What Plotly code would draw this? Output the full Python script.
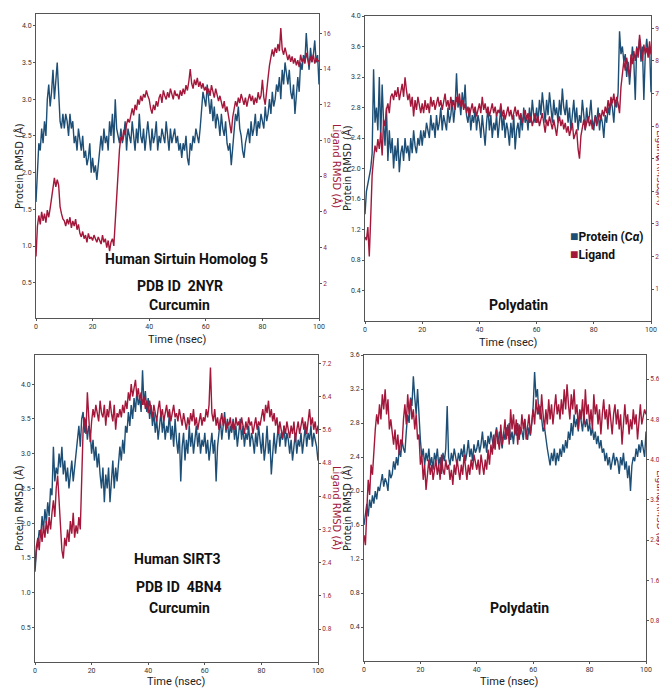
import numpy as np
import plotly.graph_objects as go

# ---------------- data (RMSD traces, sampled every 0.5 ns, 0..100 ns) ----------------
P1_PROTEIN = [
    1.6, 2.1, 2.4, 2.3, 2.6, 2.4, 2.7, 2.5, 3.0, 3.2, 2.9, 3.1, 3.4, 3.0, 3.3, 3.5, 3.1, 2.7, 2.6, 2.8,
    2.6, 2.8, 2.7, 2.5, 2.8, 2.6, 2.7, 2.4, 2.5, 2.3, 2.6, 2.4, 2.3, 2.5, 2.2, 2.3, 2.1, 2.2, 2.4, 2.0,
    2.2, 2.0, 2.1, 1.9, 2.1, 2.4, 2.5, 2.3, 2.6, 2.4, 2.5, 2.3, 2.7, 2.5, 2.8, 2.4, 3.0, 2.6, 2.5, 2.4,
    2.6, 2.4, 2.5, 2.7, 2.3, 2.6, 2.5, 2.4, 2.7, 2.5, 2.3, 2.6, 2.4, 2.8, 2.5, 2.4, 2.6, 2.3, 2.5, 2.7,
    2.5, 2.3, 2.6, 2.4, 2.5, 2.7, 2.3, 2.5, 2.4, 2.6, 2.5, 2.4, 2.7, 2.5, 2.3, 2.6, 2.4, 2.5, 2.6, 2.4,
    2.5, 2.3, 2.4, 2.2, 2.4, 2.3, 2.5, 2.2, 2.1, 2.4, 2.3, 2.5, 2.4, 2.6, 2.5, 2.4, 2.6, 2.9, 3.1, 3.0,
    2.9, 3.2, 3.0, 2.8, 3.0, 2.7, 2.9, 2.6, 2.8, 2.7, 2.5, 2.8, 2.6, 2.5, 2.7, 2.4, 2.3, 2.4, 2.1, 2.3,
    2.6, 2.8, 2.7, 2.9, 2.6, 2.5, 2.3, 2.2, 2.4, 2.5, 2.6, 2.4, 2.7, 2.5, 2.6, 2.8, 2.5, 2.7, 2.6, 2.8,
    2.7, 2.6, 2.9, 2.7, 2.8, 3.0, 2.8, 3.1, 2.9, 3.0, 3.2, 3.1, 3.3, 3.0, 3.4, 3.2, 3.5, 3.3, 3.2, 3.4,
    3.1, 3.0, 3.2, 2.8, 3.0, 3.3, 3.1, 3.5, 3.4, 3.6, 3.5, 3.9, 3.6, 3.4, 3.7, 3.5, 3.6, 3.8, 3.5, 3.6,
    3.2,
]
P1_LIGAND = [
    3.5, 5.2, 5.8, 5.3, 6.0, 5.5, 5.9, 5.4, 6.1, 5.7, 6.2, 6.8, 7.3, 7.9, 7.4, 7.8, 7.5, 6.3, 5.9, 5.6,
    5.5, 5.2, 5.6, 5.3, 5.7, 5.1, 5.5, 5.2, 5.6, 5.0, 5.3, 4.8, 4.6, 4.9, 4.5, 4.7, 4.3, 4.8, 4.5, 4.6,
    4.4, 4.7, 4.5, 4.3, 4.6, 4.4, 4.2, 4.7, 4.3, 4.5, 4.0, 4.4, 3.8, 4.3, 4.5, 4.1, 5.5, 7.0, 8.5, 9.5,
    10.2, 10.0, 10.6, 10.3, 10.9, 11.2, 11.0, 11.5, 11.8, 11.4, 12.0, 11.7, 12.3, 12.0, 12.5, 12.2, 12.6, 12.4, 12.8, 12.5,
    12.3, 11.8, 11.5, 12.0, 11.7, 12.2, 11.9, 12.4, 12.6, 12.1, 12.8, 12.5, 12.3, 12.7, 12.4, 12.9, 12.6, 12.3, 12.8, 12.5,
    12.6, 12.3, 12.8, 12.5, 12.9, 12.6, 13.1, 12.8, 13.3, 14.0, 13.2, 12.9, 13.4, 13.1, 13.5, 13.0, 13.3, 12.9, 13.2, 12.8,
    13.0, 12.6, 12.9, 12.5, 13.1, 12.7, 12.4, 12.9, 12.6, 12.2, 12.5, 12.1, 11.8, 12.2, 11.6, 11.9, 11.4, 11.0, 10.4, 11.3,
    11.8, 12.2, 11.9, 12.4, 12.1, 12.6, 12.3, 12.0, 12.4, 11.9, 12.3, 12.6, 12.2, 12.5, 12.0, 12.4, 12.1, 12.7, 12.3, 12.5,
    13.4, 12.4, 12.0, 12.6, 13.5, 14.2, 14.8, 15.1, 14.7, 15.2, 14.9, 15.4, 15.0, 16.3, 15.1, 14.8, 15.2, 14.9, 14.5, 14.8,
    14.4, 14.7, 14.3, 14.6, 14.2, 14.5, 14.1, 14.8, 14.4, 14.6, 14.3, 14.9, 14.5, 14.2, 14.7, 14.4, 14.8, 14.3, 14.6, 14.4,
    14.5,
]
P2_PROTEIN = [
    1.4, 1.7, 1.8, 1.9, 2.0, 2.2, 3.3, 2.6, 2.8, 2.5, 3.2, 2.4, 3.1, 2.6, 2.3, 2.8, 2.1, 2.5, 2.2, 2.4,
    2.0, 2.3, 2.1, 2.4, 1.95, 2.2, 2.3, 2.1, 2.4, 2.2, 2.3, 2.1, 2.4, 2.2, 2.5, 2.3, 2.2, 2.4, 2.3, 2.5,
    2.3, 2.5, 2.4, 2.6, 2.5, 2.4, 2.7, 2.5, 2.6, 2.4, 2.7, 2.5, 2.6, 2.8, 2.5, 2.7, 2.6, 2.5, 2.8, 2.6,
    2.7, 2.9, 2.6, 2.8, 3.25, 2.8, 2.9, 2.7, 3.0, 2.8, 3.1, 2.7, 2.6, 2.8, 2.5, 2.7, 2.6, 2.8, 2.5, 2.7,
    2.6, 2.4, 2.7, 2.5, 2.3, 2.6, 2.8, 2.5, 2.7, 2.4, 2.6, 2.5, 2.7, 2.4, 2.6, 2.8, 2.5, 2.7, 2.4, 2.6,
    2.5, 2.3, 2.6, 2.4, 2.7, 2.25, 2.5, 2.6, 2.4, 2.7, 2.5, 2.8, 2.6, 2.7, 2.5, 2.8, 2.6, 2.9, 2.7, 2.6,
    2.8, 2.6, 2.9, 2.7, 3.0, 2.8, 2.6, 2.9, 2.7, 3.0, 2.8, 2.6, 2.9, 2.7, 2.8, 2.6, 2.9, 2.7, 3.05, 2.8,
    2.7, 2.9, 2.6, 2.8, 2.5, 2.7, 2.9, 2.6, 2.8, 2.5, 2.7, 2.6, 2.9, 2.7, 2.5, 2.8, 2.6, 2.7, 2.9, 2.6,
    2.5, 2.7, 2.6, 2.8, 2.5, 2.7, 2.6, 2.4, 2.7, 2.6, 2.8, 2.7, 2.9, 2.8, 2.6, 2.9, 2.8, 3.0, 3.8, 3.5,
    3.6, 3.4, 3.5, 3.2, 3.4, 3.1, 3.3, 3.6, 3.4, 2.9, 3.6, 3.5, 3.7, 3.4, 3.6, 2.9, 3.5, 3.7, 3.5, 3.6,
    3.0,
]
P2_LIGAND = [
    2.6, 2.5, 2.9, 2.0, 3.2, 4.5, 5.0, 5.4, 5.2, 5.6, 5.3, 5.8, 5.1, 6.2, 6.0, 6.5, 6.7, 6.4, 6.9, 7.0,
    6.8, 7.1, 6.9, 7.2, 6.8, 7.0, 7.3, 6.9, 7.5, 7.1, 6.8, 7.0, 6.6, 6.9, 6.3, 6.8, 6.5, 6.9, 6.6, 6.4,
    6.7, 6.4, 6.8, 6.5, 6.7, 6.4, 6.9, 6.6, 6.8, 6.5, 6.7, 6.9, 6.6, 6.8, 6.5, 6.7, 7.0, 6.6, 6.8, 6.5,
    6.9, 6.6, 6.8, 6.5, 6.9, 6.7, 7.0, 6.6, 6.8, 6.5, 6.7, 6.4, 6.6, 6.3, 6.5, 6.7, 6.4, 6.6, 6.3, 6.5,
    6.7, 6.4, 6.9, 6.5, 6.7, 6.4, 6.6, 6.3, 6.5, 6.7, 6.4, 6.6, 6.3, 6.5, 6.4, 6.7, 6.3, 6.5, 6.2, 6.4,
    6.6, 6.3, 6.5, 6.2, 6.4, 6.6, 6.3, 6.5, 6.2, 6.4, 6.1, 6.3, 6.5, 6.2, 6.4, 6.1, 6.3, 6.0, 6.2, 6.4,
    6.1, 6.3, 6.0, 6.2, 6.4, 6.1, 5.8, 6.2, 6.0, 6.3, 6.1, 5.9, 6.2, 6.0, 5.7, 6.1, 6.3, 6.0, 6.2, 5.9,
    6.1, 5.8, 6.0, 5.7, 5.9, 6.1, 5.6, 5.8, 5.9, 5.3, 5.0, 5.7, 6.0, 6.2, 5.9, 6.1, 6.3, 6.0, 6.2, 5.9,
    6.1, 6.3, 6.0, 6.2, 6.4, 6.2, 6.5, 6.3, 6.6, 6.4, 6.8, 6.5, 6.9, 6.7, 7.0, 6.6, 6.9, 6.7, 6.4, 7.2,
    7.6, 8.0, 7.7, 8.1, 7.8, 7.5, 8.2, 7.9, 8.3, 8.0, 8.4, 8.1, 8.8, 8.3, 8.0, 8.5, 8.2, 8.4, 8.1, 8.6,
    8.2,
]
P3_PROTEIN = [
    1.3, 1.6, 1.7, 1.9, 1.8, 2.1, 1.9, 2.2, 2.0, 2.3, 2.1, 2.5, 2.4, 3.1, 2.6, 2.8, 2.7, 3.0, 2.8, 3.1,
    2.7, 2.9, 2.6, 2.8, 2.5, 2.7, 2.9, 2.6, 2.8, 3.0, 3.2, 3.4, 3.1, 3.5, 3.6, 3.3, 3.5, 3.2, 3.4, 3.3,
    3.0, 3.2, 2.9, 3.1, 2.8, 3.0, 2.7, 2.5, 2.8, 2.3, 2.7, 2.5, 2.8, 2.3, 2.6, 2.9, 2.5, 2.8, 2.6, 2.9,
    3.1, 2.9, 3.2, 3.0, 3.4, 3.3, 3.6, 3.4, 3.7, 3.5, 3.8, 3.6, 3.9, 3.7, 3.8, 3.6, 4.2, 3.7, 3.9, 3.6,
    3.8, 3.5, 3.7, 3.4, 3.6, 3.3, 3.5, 3.2, 3.4, 3.6, 3.3, 3.5, 3.2, 3.4, 3.3, 3.6, 3.2, 3.4, 3.1, 3.5,
    3.2, 3.0, 3.3, 2.6, 3.1, 3.3, 2.9, 3.2, 3.0, 3.4, 3.1, 3.3, 3.0, 3.2, 3.4, 3.1, 3.3, 3.0, 3.2, 3.1,
    3.3, 3.0, 3.2, 2.9, 3.1, 3.3, 3.0, 3.2, 2.6, 3.1, 3.3, 3.5, 3.2, 3.4, 3.6, 3.3, 3.5, 3.2, 3.4, 3.3,
    3.5, 3.2, 3.4, 3.1, 3.3, 3.5, 3.2, 3.4, 3.1, 3.3, 3.2, 3.4, 3.1, 3.3, 3.2, 3.0, 3.3, 3.1, 3.4, 3.2,
    3.0, 3.3, 2.9, 3.1, 3.4, 3.0, 3.2, 2.7, 3.1, 3.3, 3.0, 3.2, 3.4, 3.1, 3.3, 3.2, 3.4, 3.1, 3.3, 3.2,
    3.0, 3.2, 2.9, 3.1, 3.3, 3.0, 3.2, 3.1, 3.3, 3.0, 3.2, 3.4, 3.1, 3.3, 3.2, 3.4, 3.1, 3.3, 3.2, 3.1,
    2.9,
]
P3_LIGAND = [
    2.3, 2.8, 3.0, 2.7, 3.2, 2.9, 3.3, 3.0, 3.4, 3.1, 3.5, 3.2, 3.6, 3.9, 3.5, 4.2, 4.5, 3.8, 3.2, 2.7,
    2.5, 3.0, 2.8, 3.2, 2.9, 3.4, 3.1, 3.6, 3.0, 3.3, 3.1, 3.5, 3.2, 4.8, 5.6, 5.9, 5.5, 6.5, 5.7, 5.3,
    5.8, 6.1, 5.9, 6.2, 6.0, 5.8, 6.3, 6.0, 5.9, 6.2, 5.7, 6.1, 5.9, 6.3, 6.0, 5.8, 6.2, 5.6, 6.0, 5.9,
    6.1, 5.9, 6.2, 6.0, 6.3, 6.1, 6.5, 6.3, 6.7, 6.4, 6.6, 6.8, 6.4, 6.6, 6.3, 6.5, 6.2, 6.4, 6.1, 6.3,
    6.0, 6.3, 6.1, 5.9, 6.2, 6.0, 5.8, 6.1, 6.3, 5.9, 6.1, 5.8, 6.0, 6.2, 5.9, 6.1, 5.8, 6.0, 6.2, 5.9,
    6.0, 5.8, 6.1, 5.9, 5.7, 6.0, 5.8, 5.6, 5.9, 5.7, 6.0, 5.8, 6.1, 5.7, 5.9, 5.6, 5.8, 6.0, 5.7, 5.9,
    5.8, 6.1, 5.9, 6.2, 7.1, 6.0, 5.8, 6.1, 5.7, 5.9, 5.6, 5.8, 6.0, 5.7, 5.9, 5.6, 5.8, 5.7, 5.9, 5.6,
    5.8, 5.6, 5.9, 5.7, 5.8, 5.6, 5.9, 5.7, 5.5, 5.8, 5.6, 5.9, 5.7, 5.8, 5.5, 5.7, 5.9, 5.6, 5.8, 5.7,
    5.9, 6.1, 5.8, 6.2, 6.0, 6.3, 5.9, 6.1, 5.8, 6.0, 5.7, 5.9, 5.5, 5.8, 5.6, 5.4, 5.7, 5.5, 5.8, 5.6,
    5.4, 5.7, 5.5, 5.8, 5.3, 5.6, 5.8, 5.5, 5.7, 5.9, 5.6, 5.8, 5.5, 5.9, 6.1, 5.7, 5.9, 5.6, 5.8, 5.5,
    5.7,
]
P4_PROTEIN = [
    1.6, 1.75, 1.85, 1.7, 1.9, 1.8, 1.95, 1.85, 2.0, 1.9, 2.05, 2.0, 2.1, 2.2, 2.05, 2.15, 2.1, 2.0, 2.25, 2.15,
    2.2, 2.35, 2.25, 2.4, 2.3, 2.5, 2.4, 2.6, 2.5, 2.45, 2.7, 2.9, 2.8, 3.1, 3.0, 3.35, 3.1, 2.9, 3.2, 2.8,
    2.6, 2.4, 2.5, 2.3, 2.45, 2.35, 2.5, 2.3, 2.4, 2.25, 2.45, 2.35, 2.5, 2.3, 2.4, 2.2, 2.45, 2.35, 2.5, 3.0,
    2.4, 2.3, 2.45, 2.35, 2.5, 2.4, 2.3, 2.45, 2.35, 2.5, 2.4, 2.55, 2.35, 2.45, 2.6, 2.4, 2.5, 2.35, 2.55, 2.45,
    2.5, 2.6, 2.45, 2.55, 2.7, 2.5, 2.6, 2.45, 2.65, 2.55, 2.7, 2.6, 2.5, 2.65, 2.75, 2.55, 2.7, 2.6, 2.5, 2.7,
    2.6, 2.75, 2.65, 2.8, 2.6, 2.7, 2.55, 2.75, 2.65, 2.8, 2.6, 2.75, 2.7, 2.6, 2.85, 2.7, 2.6, 2.75, 2.65, 2.8,
    3.0, 3.4, 3.1, 3.2, 2.9, 3.0, 2.8, 2.7, 2.75, 2.6, 2.5, 2.4, 2.3, 2.45, 2.35, 2.5, 2.3, 2.45, 2.35, 2.5,
    2.4, 2.55, 2.45, 2.6, 2.5, 2.7, 2.6, 2.8, 2.65, 2.9, 2.75, 2.85, 2.7, 2.95, 2.8, 2.7, 2.9, 2.75, 2.85, 2.7,
    2.8, 2.65, 2.75, 2.6, 2.7, 2.55, 2.65, 2.5, 2.6, 2.45, 2.5, 2.35, 2.45, 2.3, 2.4, 2.25, 2.35, 2.45, 2.3, 2.4,
    2.35, 2.2, 2.4, 2.3, 2.45, 2.25, 2.35, 2.15, 2.3, 2.0, 2.3, 2.4, 2.35, 2.5, 2.4, 2.55, 2.45, 2.6, 2.5, 2.4,
    2.7,
]
P4_LIGAND = [
    2.5, 2.3, 3.0, 3.6, 3.3, 3.9, 3.7, 4.3, 4.6, 4.9, 4.7, 5.1, 4.8, 5.3, 5.0, 5.4, 4.9, 5.2, 4.6, 4.8,
    4.5, 4.3, 4.6, 4.2, 4.5, 4.1, 4.4, 4.3, 4.8, 5.1, 4.7, 5.3, 4.9, 5.2, 4.8, 5.0, 4.6, 4.9, 4.4, 4.5,
    3.9, 4.1, 3.6, 3.9, 3.4, 3.8, 4.0, 3.7, 3.9, 3.6, 3.8, 4.0, 3.7, 3.9, 3.6, 4.1, 3.8, 3.7, 4.0, 3.8,
    3.9, 3.6, 3.8, 3.5, 3.9, 3.7, 4.0, 3.8, 3.6, 3.9, 3.7, 4.1, 3.8, 3.6, 3.9, 3.7, 4.0, 3.8, 4.1, 3.9,
    3.8, 4.0, 3.7, 4.1, 3.9, 3.7, 4.0, 3.8, 4.2, 3.9, 4.3, 4.1, 4.5, 4.2, 4.6, 4.4, 4.2, 4.7, 4.3, 4.5,
    4.8, 4.4, 4.7, 4.3, 5.0, 4.6, 4.9, 4.5, 4.8, 4.3, 4.7, 4.5, 4.9, 4.6, 4.8, 4.4, 4.7, 4.9, 4.5, 4.8,
    5.0, 4.7, 5.2, 4.9, 5.1, 4.8, 5.3, 4.9, 4.6, 5.0, 4.7, 5.2, 4.8, 5.1, 4.7, 5.0, 5.3, 4.9, 5.1, 4.8,
    5.2, 4.9, 5.4, 5.0, 5.5, 5.1, 4.8, 5.3, 5.0, 5.4, 4.9, 5.1, 4.6, 5.0, 4.8, 5.2, 4.7, 5.4, 4.9, 5.1,
    4.7, 5.0, 4.6, 5.3, 4.9, 5.1, 4.7, 5.0, 4.5, 4.9, 5.2, 4.8, 5.0, 4.6, 5.1, 4.8, 4.5, 4.9, 5.1, 4.7,
    5.0, 4.6, 4.9, 4.3, 4.8, 5.1, 4.7, 4.9, 4.5, 4.8, 4.6, 5.0, 4.7, 4.9, 4.4, 4.8, 5.1, 4.7, 4.9, 5.0,
    4.9,
]

X_TICKS = [0, 20, 40, 60, 80, 100]
P1_LEFT_TICKS = [0.5, 1.0, 1.5, 2.0, 2.5, 3.0, 3.5, 4.0]
P1_RIGHT_TICKS = [2, 4, 6, 8, 10, 12, 14, 16]
P2_LEFT_TICKS = [0.4, 0.8, 1.2, 1.6, 2.0, 2.4, 2.8, 3.2, 3.6, 4.0]
P2_RIGHT_TICKS = [1, 2, 3, 4, 5, 6, 7, 8, 9]
P3_LEFT_TICKS = [0.5, 1.0, 1.5, 2.0, 2.5, 3.0, 3.5, 4.0]
P3_RIGHT_TICKS = [0.8, 1.6, 2.4, 3.2, 4.0, 4.8, 5.6, 6.4, 7.2]
P4_LEFT_TICKS = [0.4, 0.8, 1.2, 1.6, 2.0, 2.4, 2.8, 3.2, 3.6]
P4_RIGHT_TICKS = [0.8, 1.6, 2.4, 3.2, 4.0, 4.8, 5.6]

PANEL_LABELS = [
    ["Human Sirtuin Homolog 5", "PDB ID  2NYR", "Curcumin"],
    ["Polydatin"],
    ["Human SIRT3", "PDB ID  4BN4", "Curcumin"],
    ["Polydatin"],
]
SERIES_NAMES = ["Protein (C<i>α</i>)", "Ligand"]
X_TITLE = "Time (nsec)"
LEFT_TITLE = "Protein RMSD (Å)"
RIGHT_TITLE = "Ligand RMSD (Å)"

# ---------------- style / page geometry ----------------
PAGE_OFF = 8              # default body margin of the html page
W, H = 667 - PAGE_OFF, 688 - PAGE_OFF
BLUE = "#1d4e75"
RED = "#a3173a"
AXIS_COL = "#555555"
NARROW = "Liberation Sans Narrow, Roboto, sans-serif"
WIDE = "DejaVu Sans, Verdana, sans-serif"


def px_x(px):
    return (px - PAGE_OFF) / W


def px_y(py):
    return 1 - (py - PAGE_OFF) / H


panels = [
    dict(protein=P1_PROTEIN, ligand=P1_LIGAND, box=(36, 319, 14, 318),
         lrange=[0.02, 4.16], rrange=[0.06, 17.08], lt=P1_LEFT_TICKS, rt=P1_RIGHT_TICKS,
         lfmt="{:.1f}", rfmt="{:d}", labels=PANEL_LABELS[0],
         label_pos=[(187, 259), (180, 286), (179, 305)],
         ltitle=(19, 166), rtitle=(337, 166), rsize=10, xtitle=(177, 339)),
    dict(protein=P2_PROTEIN, ligand=P2_LIGAND, box=(365, 651, 16, 321),
         lrange=[0.0, 4.0], rrange=[0.02, 9.38], lt=P2_LEFT_TICKS, rt=P2_RIGHT_TICKS,
         lfmt="{:.1f}", rfmt="{:d}", labels=PANEL_LABELS[1],
         label_pos=[(518, 305)],
         ltitle=(347, 168), rtitle=(661, 168), rsize=9, xtitle=(508, 342)),
    dict(protein=P3_PROTEIN, ligand=P3_LIGAND, box=(35, 318, 355, 662),
         lrange=[0.0, 4.42], rrange=[0.01, 7.4], lt=P3_LEFT_TICKS, rt=P3_RIGHT_TICKS,
         lfmt="{:.1f}", rfmt="{:.1f}", labels=PANEL_LABELS[2],
         label_pos=[(177, 559), (179, 587), (179, 608)],
         ltitle=(19, 508), rtitle=(337, 508), rsize=10, xtitle=(176, 681)),
    dict(protein=P4_PROTEIN, ligand=P4_LIGAND, box=(364, 646, 355, 661),
         lrange=[0.0, 3.6], rrange=[0.0, 6.08], lt=P4_LEFT_TICKS, rt=P4_RIGHT_TICKS,
         lfmt="{:.1f}", rfmt="{:.1f}", labels=PANEL_LABELS[3],
         label_pos=[(519, 608)],
         ltitle=(347, 508), rtitle=(661, 508), rsize=9, xtitle=(509, 681)),
]

fig = go.Figure()
layout = dict(
    width=W, height=H, margin=dict(l=0, r=0, t=0, b=0),
    paper_bgcolor="white", plot_bgcolor="white", showlegend=False,
)
annotations = []


def add_text(text, pos, font, angle=0, xanchor="center"):
    annotations.append(dict(
        text=text, x=px_x(pos[0]), y=px_y(pos[1]), xref="paper", yref="paper",
        showarrow=False, xanchor=xanchor, yanchor="middle", textangle=angle, font=font,
    ))


for i, p in enumerate(panels):
    n = i + 1
    xname = "x" if n == 1 else f"x{n}"
    yl, yr = 2 * n - 1, 2 * n
    ylname = "y" if yl == 1 else f"y{yl}"
    yrname = f"y{yr}"
    x0, x1, y0, y1 = p["box"]
    t_prot = np.linspace(0, 100, len(p["protein"]))
    t_lig = np.linspace(0, 100, len(p["ligand"]))

    fig.add_trace(go.Scatter(x=t_prot, y=p["protein"], mode="lines", xaxis=xname, yaxis=ylname,
                             line=dict(color=BLUE, width=1.4), name=SERIES_NAMES[0]))
    fig.add_trace(go.Scatter(x=t_lig, y=p["ligand"], mode="lines", xaxis=xname, yaxis=yrname,
                             line=dict(color=RED, width=1.4), name=SERIES_NAMES[1]))

    xkey = "xaxis" if n == 1 else f"xaxis{n}"
    ylkey = "yaxis" if yl == 1 else f"yaxis{yl}"
    yrkey = f"yaxis{yr}"

    common = dict(showline=True, linecolor=AXIS_COL, linewidth=1, ticks="outside", ticklen=2,
                  tickcolor=AXIS_COL, showgrid=False, zeroline=False, automargin=False)
    layout[xkey] = dict(
        domain=[px_x(x0), px_x(x1)], anchor=ylname, range=[0, 100], mirror=True,
        tickvals=X_TICKS, ticktext=[str(v) for v in X_TICKS],
        tickfont=dict(family=NARROW, size=7, color="#333333"), **common,
    )
    layout[ylkey] = dict(
        domain=[px_y(y1), px_y(y0)], anchor=xname, range=p["lrange"],
        tickvals=p["lt"], ticktext=[p["lfmt"].format(v) for v in p["lt"]],
        tickfont=dict(family=NARROW, size=7, color="#333333"), **common,
    )
    layout[yrkey] = dict(
        domain=[px_y(y1), px_y(y0)], anchor=xname, overlaying=ylname, side="right",
        range=p["rrange"],
        tickvals=p["rt"], ticktext=[p["rfmt"].format(v) for v in p["rt"]],
        tickfont=dict(family=NARROW, size=6.5, color="#8e1b3d"), **common,
    )

    add_text(LEFT_TITLE, p["ltitle"], dict(family=WIDE, size=10, color="#222222"), -90)
    add_text(RIGHT_TITLE, p["rtitle"], dict(family=WIDE, size=p["rsize"], color=RED), 90)
    add_text(X_TITLE, p["xtitle"], dict(family=NARROW, size=11, color="#222222"))
    for txt, pos in zip(p["labels"], p["label_pos"]):
        add_text(f"<b>{txt}</b>", pos, dict(family=NARROW, size=14, color="#111111"))

# legend (panel 2): coloured square + bold name
LEGEND_POS = [(568, 236), (568, 254)]
for name, col, pos in zip(SERIES_NAMES, [BLUE, RED], LEGEND_POS):
    add_text(f"<span style='color:{col};font-size:14px'>■</span><b>{name}</b>", pos,
             dict(family=NARROW, size=12, color="#111111"), xanchor="left")

layout["annotations"] = annotations
fig.update_layout(**layout)
fig.write_html("out.html")
